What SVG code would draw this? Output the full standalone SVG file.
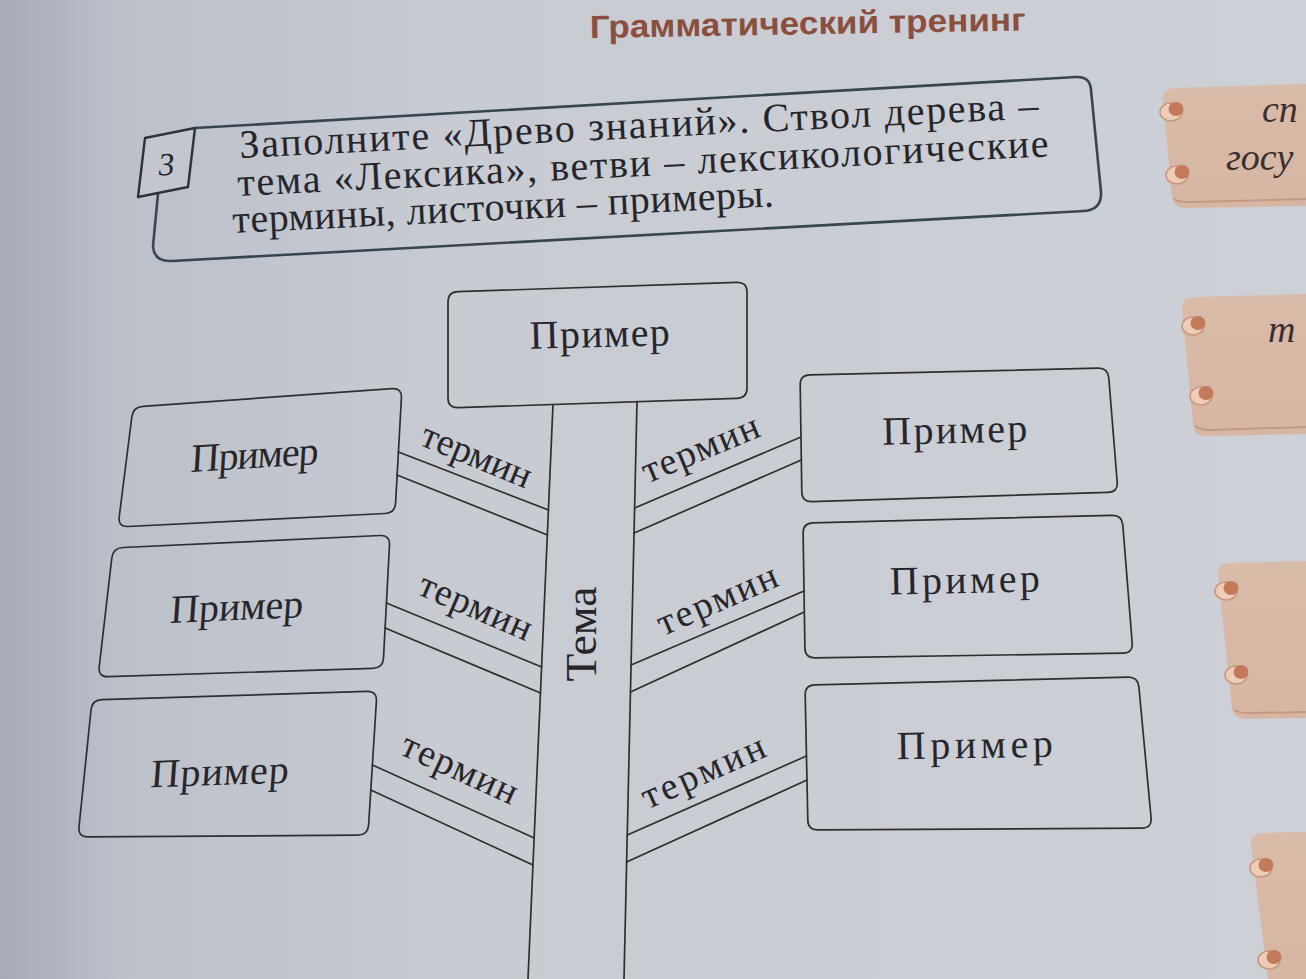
<svg xmlns="http://www.w3.org/2000/svg" width="1306" height="979" viewBox="0 0 1306 979">
<defs>
<linearGradient id="page" x1="0" y1="0" x2="1" y2="0">
<stop offset="0" stop-color="#a7abb6"/>
<stop offset="0.09" stop-color="#bcc0c9"/>
<stop offset="0.35" stop-color="#c8cbd2"/>
<stop offset="1" stop-color="#cdd0d6"/>
</linearGradient>
<linearGradient id="card" x1="0" y1="0" x2="0" y2="1">
<stop offset="0" stop-color="#d9bba9"/>
<stop offset="1" stop-color="#d6b6a3"/>
</linearGradient>
</defs>
<style>
.box{fill:none;stroke:#2e2f33;stroke-width:1.7;stroke-linejoin:round}
.ln{stroke:#2e2f33;stroke-width:1.7;fill:none;stroke-linecap:round}
.lbl{font-family:"Liberation Serif","DejaVu Serif",serif;fill:#26262b;text-anchor:middle}
.term{font-size:38px}
.ex{font-size:40px}
.task{font-family:"Liberation Serif","DejaVu Serif",serif;font-size:40px;fill:#25262c}
.cardt{font-family:"Liberation Serif","DejaVu Serif",serif;font-style:italic;font-size:38px;fill:#3a3030}
.pinb{fill:#edcdb8;stroke:#c9957c;stroke-width:1.5}
.pin{fill:#c27a5b}
.cardedge{stroke:#c39983;stroke-width:2;fill:none}
</style>
<rect x="0" y="0" width="1306" height="979" fill="url(#page)"/>

<g id="header">
<text x="590" y="38" transform="rotate(-1 590 38)" font-family="Liberation Sans,Arial,sans-serif" font-weight="bold" font-size="32" fill="#8a4f3f" textLength="436" lengthAdjust="spacingAndGlyphs">Грамматический тренинг</text>
</g>

<g id="task">
<path d="M195,128 L1076,77 Q1090,76 1091,90 L1101,192 Q1102,210 1084,211 L172,261 Q154,262 153,246 L158,194" fill="none" stroke="#38464f" stroke-width="2.6" stroke-linejoin="round"/>
<polygon points="145,138 195,128 188,187 138,197" fill="#c3c6ce" stroke="#2f3338" stroke-width="2.4" stroke-linejoin="round"/>
<text x="167" y="175" transform="rotate(-3 167 175)" text-anchor="middle" font-family="Liberation Serif,serif" font-style="italic" font-size="32" fill="#25262c">3</text>
<text class="task" x="240" y="158" transform="rotate(-2.86 240 158)" textLength="800" lengthAdjust="spacing">Заполните «Древо знаний». Ствол дерева –</text>
<text class="task" x="238" y="196" transform="rotate(-2.8 238 196)" textLength="812" lengthAdjust="spacing">тема «Лексика», ветви – лексикологические</text>
<text class="task" x="233" y="233" transform="rotate(-2.8 233 233)" textLength="542" lengthAdjust="spacing">термины, листочки – примеры.</text>
</g>

<g id="cards">
<path d="M1175,88 L1306,84 L1306,206 L1186,208 Q1173,208 1172,196 L1163,101 Q1162,89 1175,88 Z" fill="url(#card)"/>
<path class="cardedge" d="M1174,199 Q1178,202 1190,202 L1306,199"/>
<ellipse class="pinb" cx="1171" cy="112" rx="11" ry="9"/>
<ellipse class="pin" cx="1176" cy="109" rx="7.5" ry="7"/>
<ellipse class="pinb" cx="1177" cy="175" rx="11" ry="9"/>
<ellipse class="pin" cx="1182" cy="172" rx="7.5" ry="7"/>
<text class="cardt" x="1262" y="122">сп</text>
<text class="cardt" x="1226" y="170">госу</text>

<path d="M1194,297 L1306,294 L1306,434 L1206,436 Q1194,436 1193,424 L1182,310 Q1181,298 1194,297 Z" fill="url(#card)"/>
<path class="cardedge" d="M1195,426 Q1200,430 1212,430 L1306,427"/>
<ellipse class="pinb" cx="1193" cy="326" rx="11" ry="9"/>
<ellipse class="pin" cx="1198" cy="323" rx="7.5" ry="7"/>
<ellipse class="pinb" cx="1201" cy="396" rx="11" ry="9"/>
<ellipse class="pin" cx="1206" cy="393" rx="7.5" ry="7"/>
<text class="cardt" x="1268" y="342">т</text>

<path d="M1230,563 L1306,561 L1306,718 L1245,719 Q1233,719 1232,707 L1218,576 Q1217,564 1230,563 Z" fill="url(#card)"/>
<path class="cardedge" d="M1234,710 Q1239,713 1250,713 L1306,712"/>
<ellipse class="pinb" cx="1226" cy="591" rx="11" ry="9"/>
<ellipse class="pin" cx="1231" cy="588" rx="7.5" ry="7"/>
<ellipse class="pinb" cx="1236" cy="675" rx="11" ry="9"/>
<ellipse class="pin" cx="1241" cy="672" rx="7.5" ry="7"/>

<path d="M1263,833 L1306,832 L1306,979 L1268,979 L1251,846 Q1250,834 1263,833 Z" fill="url(#card)"/>
<ellipse class="pinb" cx="1261" cy="868" rx="11" ry="9"/>
<ellipse class="pin" cx="1266" cy="865" rx="7.5" ry="7"/>
<ellipse class="pinb" cx="1269" cy="960" rx="11" ry="9"/>
<ellipse class="pin" cx="1274" cy="957" rx="7.5" ry="7"/>
</g>

<g id="connectors">
<line class="ln" x1="553" y1="404.5" x2="528" y2="979"/>
<line class="ln" x1="637" y1="401.7" x2="624" y2="979"/>
<line class="ln" x1="398.4" y1="452" x2="548.5" y2="510"/>
<line class="ln" x1="397" y1="475" x2="547.4" y2="535"/>
<line class="ln" x1="386.4" y1="603" x2="541.7" y2="667"/>
<line class="ln" x1="385.1" y1="628" x2="540.5" y2="693"/>
<line class="ln" x1="372.4" y1="765" x2="534.2" y2="838"/>
<line class="ln" x1="370.8" y1="790" x2="533" y2="865"/>
<line class="ln" x1="634.7" y1="508" x2="801" y2="437"/>
<line class="ln" x1="634.1" y1="533" x2="801.3" y2="460"/>
<line class="ln" x1="631.1" y1="665" x2="804" y2="591"/>
<line class="ln" x1="630.5" y1="692" x2="804.3" y2="612"/>
<line class="ln" x1="627.3" y1="835" x2="806.4" y2="756"/>
<line class="ln" x1="626.6" y1="862" x2="807" y2="780"/>
</g>

<g id="trunk-label">
<text class="lbl" font-size="44" transform="translate(596,634) rotate(-90)" x="0" y="0" textLength="95" lengthAdjust="spacingAndGlyphs">Тема</text>
</g>

<g id="branch-labels">
<text class="lbl term" transform="translate(474,462) rotate(22.5)" x="0" y="5" textLength="116">термин</text>
<text class="lbl term" transform="translate(473,613) rotate(23.3)" x="0" y="5" textLength="120">термин</text>
<text class="lbl term" transform="translate(457,775) rotate(24.5)" x="0" y="5" textLength="124">термин</text>
<text class="lbl term" transform="translate(703,455) rotate(-22.6)" x="0" y="5" textLength="124">термин</text>
<text class="lbl term" transform="translate(720,606) rotate(-23.3)" x="0" y="5" textLength="128">термин</text>
<text class="lbl term" transform="translate(706,778) rotate(-24)" x="0" y="5" textLength="132">термин</text>
</g>

<g id="node-top">
<path class="box" d="M458,291.7 L737,282.3 Q747,282 747,292 L747,388 Q747,398 737,398.3 L458,407.7 Q448,408 448,398 L448,302 Q448,292 458,291.7 Z"/>
<text class="lbl ex" font-size="41" x="600" y="347" transform="rotate(-1.5 600 347)" textLength="140">Пример</text>
</g>
<g id="node-left-1">
<path class="box" d="M143,406.3 L392,388.7 Q402,388 401.4,398 L395.6,503 Q395,513 385,513.5 L128,526.5 Q118,527 119.2,517 L131.8,417 Q133,407 143,406.3 Z"/>
<text class="lbl ex" transform="translate(254,468) rotate(-3.5) skewX(-7)" textLength="128">Пример</text>
</g>
<g id="node-left-2">
<path class="box" d="M123,547.5 L380,535.5 Q390,535 389.5,545 L383.5,658 Q383,668 373,668.3 L108,676.7 Q98,677 99.2,667 L111.8,558 Q113,548 123,547.5 Z"/>
<text class="lbl ex" transform="translate(236,620) rotate(-2.5) skewX(-6.5)" textLength="133">Пример</text>
</g>
<g id="node-left-3">
<path class="box" d="M102,699.7 L367,691.3 Q377,691 376.4,701 L368.6,825 Q368,835 358,835.1 L88,836.9 Q78,837 79,827 L91,710 Q92,700 102,699.7 Z"/>
<text class="lbl ex" transform="translate(219,785) rotate(-1.8) skewX(-6)" textLength="138">Пример</text>
</g>
<g id="node-right-1">
<path class="box" d="M810,374.8 L1098,368.2 Q1108,368 1108.8,378 L1117.2,482 Q1118,492 1108,492.3 L812,501.7 Q802,502 801.8,492 L800.2,385 Q800,375 810,374.8 Z"/>
<text class="lbl ex" transform="translate(955,443) rotate(-1.3)" textLength="145">Пример</text>
</g>
<g id="node-right-2">
<path class="box" d="M813,522.8 L1112,515.3 Q1122,515 1122.8,525 L1132.2,643 Q1133,653 1123,653.2 L815,657.8 Q805,658 804.9,648 L803.1,533 Q803,523 813,522.8 Z"/>
<text class="lbl ex" transform="translate(965,593) rotate(-1.2)" textLength="150">Пример</text>
</g>
<g id="node-right-3">
<path class="box" d="M815,684.8 L1128,677.2 Q1138,677 1138.9,687 L1151.1,818 Q1152,828 1142,828.1 L818,829.9 Q808,830 807.8,820 L805.2,695 Q805,685 815,684.8 Z"/>
<text class="lbl ex" transform="translate(975,758) rotate(-1)" textLength="156">Пример</text>
</g>
</svg>
